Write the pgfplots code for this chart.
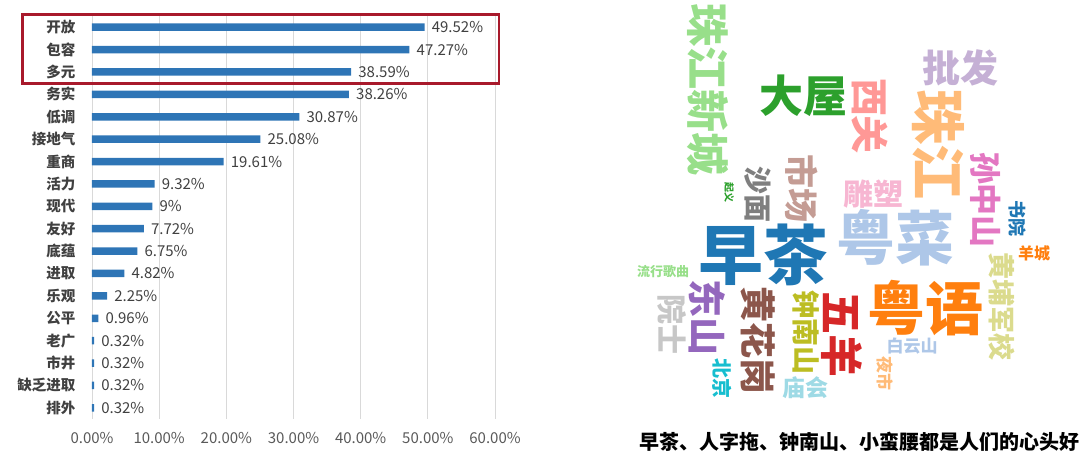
\documentclass[border=0pt]{standalone}
\usepackage{pgfplots}
\pgfplotsset{compat=1.18}
\usepackage{fontspec}
\setmainfont{Noto Sans CJK SC}
\definecolor{barblue}{HTML}{2E75B6}
\definecolor{gridgray}{HTML}{D9D9D9}
\definecolor{labgray}{HTML}{404040}
\definecolor{tickgray}{HTML}{595959}
\definecolor{boxred}{HTML}{A8192B}
\definecolor{cA}{HTML}{1F77B4}
\definecolor{cB}{HTML}{AEC7E8}
\definecolor{cC}{HTML}{FF7F0E}
\definecolor{cD}{HTML}{FFBB78}
\definecolor{cE}{HTML}{2CA02C}
\definecolor{cF}{HTML}{98DF8A}
\definecolor{cG}{HTML}{D62728}
\definecolor{cH}{HTML}{FF9896}
\definecolor{cI}{HTML}{9467BD}
\definecolor{cJ}{HTML}{C5B0D5}
\definecolor{cK}{HTML}{8C564B}
\definecolor{cL}{HTML}{C49C94}
\definecolor{cM}{HTML}{E377C2}
\definecolor{cN}{HTML}{F7B6D2}
\definecolor{cO}{HTML}{7F7F7F}
\definecolor{cP}{HTML}{C7C7C7}
\definecolor{cQ}{HTML}{BCBD22}
\definecolor{cR}{HTML}{DBDB8D}
\definecolor{cS}{HTML}{17BECF}
\definecolor{cT}{HTML}{9EDAE5}
\newcommand{\wc}[6]{%
  \addplot[only marks, mark=none, nodes near coords, point meta=explicit symbolic,
    nodes near coords style={anchor=center, inner sep=0pt, font=\fontsize{#3}{#3}\selectfont\bfseries, text=#4, rotate=#5}]
    coordinates {(#1,#2) [#6]};}
\begin{document}
\begin{tikzpicture}
\path[use as bounding box] (0,0) rectangle (1080pt,455pt);
% word cloud
\begin{axis}[at={(0pt,0pt)}, anchor=south west, scale only axis, width=1080pt, height=455pt,
  xmin=0, xmax=1080, ymin=0, ymax=455, y dir=reverse, hide axis, clip=false]
\wc{708}{90}{43}{cF}{-90}{珠江新城}
\wc{803}{96}{44}{cE}{0}{大屋}
\wc{870}{116}{38}{cH}{-90}{西关}
\wc{960}{68}{38}{cJ}{0}{批发}
\wc{938}{145}{55}{cD}{-90}{珠江}
\wc{986}{200}{32}{cM}{-90}{孙中山}
\wc{758}{194}{28}{cO}{-90}{沙面}
\wc{729}{192}{10}{cE}{-90}{起义}
\wc{802}{188}{34}{cL}{-90}{市场}
\wc{873}{194}{30}{cN}{0}{雕塑}
\wc{1017}{218}{18}{cA}{-90}{书院}
\wc{895}{238}{59}{cB}{0}{粤菜}
\wc{763}{255}{65}{cA}{0}{早茶}
\wc{1034}{253}{16}{cC}{0}{羊城}
\wc{663}{272}{13}{cF}{0}{流行歌曲}
\wc{707}{317}{38}{cI}{-90}{东山}
\wc{672}{324}{30}{cP}{-90}{院士}
\wc{758}{340}{36}{cK}{-90}{黄花岗}
\wc{806}{332}{28}{cQ}{-90}{钟南山}
\wc{842}{334}{43}{cG}{-90}{五羊}
\wc{925}{308}{58}{cC}{0}{粤语}
\wc{1002}{306}{27}{cR}{-90}{黄埔军校}
\wc{912}{346}{17}{cB}{0}{白云山}
\wc{885}{373}{17}{cD}{-90}{夜市}
\wc{722}{378}{20}{cS}{-90}{北京}
\wc{805}{388}{23}{cT}{0}{庙会}
\end{axis}
\node[font=\fontsize{20}{20}\selectfont\bfseries, text=black] at (859.5pt,13pt) {早茶、人字拖、钟南山、小蛮腰都是人们的心头好};
% bar chart
\begin{axis}[at={(92pt,36pt)}, anchor=south west, scale only axis, width=403pt, height=403pt,
  xmin=0, xmax=60, ymin=-0.5, ymax=17.5, y dir=reverse, clip=false,
  xbar, bar width=7.5pt,
  axis line style={draw=none}, major tick length=0pt, tick style={draw=none},
  xmajorgrids, grid style={draw=gridgray, line width=0.9pt},
  xtick={0,10,20,30,40,50,60},
  xticklabels={0.00\%,10.00\%,20.00\%,30.00\%,40.00\%,50.00\%,60.00\%},
  xticklabel style={font=\fontsize{15}{15}\selectfont, text=tickgray, yshift=-10pt},
  ytick={0,...,17},
  yticklabels={开放,包容,多元,务实,低调,接地气,重商,活力,现代,友好,底蕴,进取,乐观,公平,老广,市井,缺乏进取,排外},
  yticklabel style={font=\fontsize{14.5}{14.5}\selectfont\bfseries, text=labgray, xshift=-13pt},
  /pgf/number format/assume math mode=true,
  nodes near coords, point meta=explicit symbolic, nodes near coords align=horizontal,
  nodes near coords style={font=\fontsize{15}{15}\selectfont, text=labgray, anchor=west, inner sep=0pt, xshift=7pt},
]
\addplot[fill=barblue, draw=none] coordinates {
(49.52,0) [49.52\%]
(47.27,1) [47.27\%]
(38.59,2) [38.59\%]
(38.26,3) [38.26\%]
(30.87,4) [30.87\%]
(25.08,5) [25.08\%]
(19.61,6) [19.61\%]
(9.32,7) [9.32\%]
(9,8) [9\%]
(7.72,9) [7.72\%]
(6.75,10) [6.75\%]
(4.82,11) [4.82\%]
(2.25,12) [2.25\%]
(0.96,13) [0.96\%]
(0.32,14) [0.32\%]
(0.32,15) [0.32\%]
(0.32,16) [0.32\%]
(0.32,17) [0.32\%]
};
\draw[boxred, line width=2.7pt] (axis cs:-10.3,-0.58) rectangle (axis cs:60.6,2.53);
\end{axis}
\end{tikzpicture}
\end{document}
